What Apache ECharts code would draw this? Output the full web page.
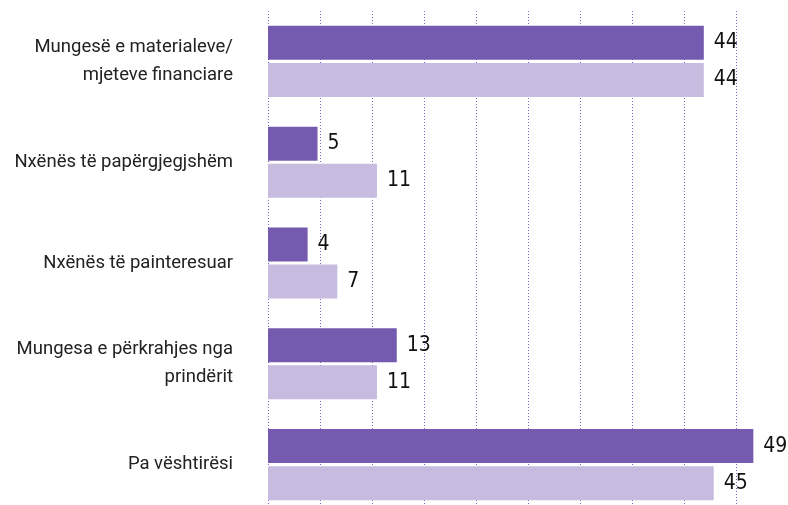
<!DOCTYPE html>
<html>
<head>
<meta charset="utf-8">
<script src="https://cdn.jsdelivr.net/npm/echarts@6/dist/echarts.min.js"></script>
<style>
  html, body { margin: 0; padding: 0; background: #ffffff; }
  #chart { width: 788px; height: 505px; }
</style>
</head>
<body>
<div id="chart"></div>
<script>
// Difficulties reported, two survey groups
const categories = [
  'Mungesë e materialeve/\nmjeteve financiare',
  'Nxënës të papërgjegjshëm',
  'Nxënës të painteresuar',
  'Mungesa e përkrahjes nga\nprindërit',
  'Pa vështirësi'
];
const seriesA = [44, 5, 4, 13, 49];
const seriesB = [44, 11, 7, 11, 45];

const chart = echarts.init(document.getElementById('chart'), null, { renderer: 'canvas' });

const valueLabel = {
  show: true,
  position: 'right',
  distance: 10,
  color: '#111111',
  fontFamily: '"DejaVu Sans Condensed", sans-serif',
  fontSize: 21,
  fontWeight: 'normal'
};

chart.setOption({
  animation: false,
  backgroundColor: '#ffffff',
  grid: {
    left: 268, right: 0, top: 11, height: 504,
    containLabel: false,
    outerBoundsMode: 'none'
  },
  xAxis: {
    type: 'value',
    min: 0,
    max: 52.5,
    interval: 5.25,
    axisLine: { show: false },
    axisTick: { show: false },
    axisLabel: { show: false },
    splitLine: {
      show: true,
      lineStyle: { color: '#7b62c2', width: 1, type: [1, 2] }
    }
  },
  yAxis: {
    type: 'category',
    data: categories,
    inverse: true,
    axisLine: { show: false },
    axisTick: { show: false },
    axisLabel: {
      margin: 35,
      color: '#222222',
      fontFamily: 'Roboto, sans-serif',
      fontSize: 18.5,
      lineHeight: 28,
      align: 'right'
    }
  },
  series: [
    {
      type: 'bar',
      data: seriesA,
      barWidth: 34,
      barGap: '9%',
      itemStyle: { color: '#755baf' },
      label: valueLabel
    },
    {
      type: 'bar',
      data: seriesB,
      barWidth: 34,
      barGap: '9%',
      itemStyle: { color: '#c7bcdf' },
      label: valueLabel
    }
  ]
});
</script>
</body>
</html>
